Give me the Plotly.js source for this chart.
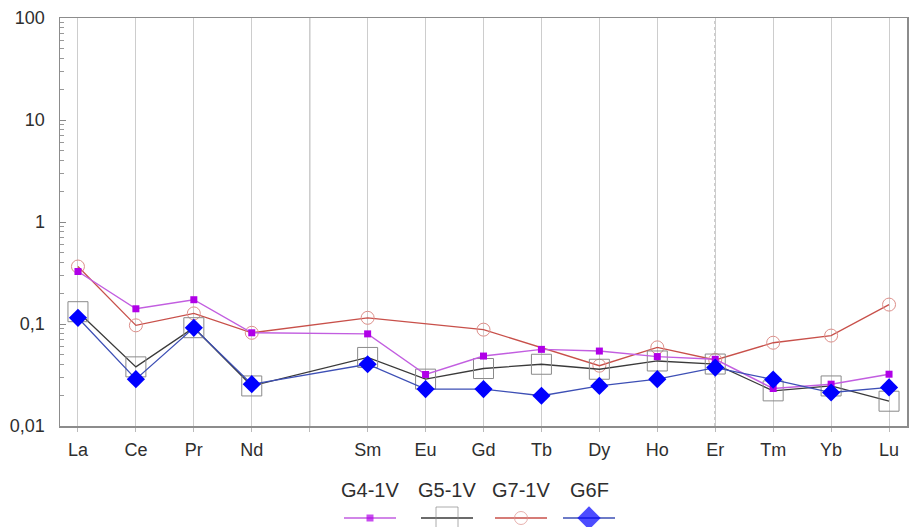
<!DOCTYPE html>
<html>
<head>
<meta charset="utf-8">
<script src="https://cdn.plot.ly/plotly-3.0.1.min.js"></script>
<style>html,body{margin:0;padding:0;background:#fff;}#chart{width:909px;height:527px;}</style>
</head>
<body>
<div id="chart"></div>
<script>
// Elements (Pm position kept empty, as in the reference)
const elements = ['La','Ce','Pr','Nd','Pm','Sm','Eu','Gd','Tb','Dy','Ho','Er','Tm','Yb','Lu'];
const elementLabels = ['La','Ce','Pr','Nd','','Sm','Eu','Gd','Tb','Dy','Ho','Er','Tm','Yb','Lu'];

// Series values (sample / chondrite)
const g4_1V = [0.327,0.141,0.173,0.082,null,0.080,0.032,0.0485,0.0564,0.0543,0.0479,0.0451,0.0233,0.0257,0.0322];
const g5_1V = [0.132,0.038,0.092,0.0247,null,0.047,0.0288,0.0366,0.0403,0.036,0.0434,0.0405,0.0221,0.0247,0.0175];
const g7_1V = [0.366,0.097,0.127,0.082,null,0.115,null,0.088,null,0.039,0.059,0.0444,0.0655,0.077,0.155];
const g6F   = [0.115,0.0288,0.0918,0.0257,null,0.0403,0.023,0.023,0.0198,0.0247,0.0288,0.0374,0.0285,0.0213,0.0239];

const seriesNames = ['G4-1V','G5-1V','G7-1V','G6F'];

const yTickVals = [0.01,0.1,1,10,100];
const yTickText = ['0,01','0,1','1','10','100'];

const W = 909, H = 527;
const plotL = 60, plotR = 907, plotT = 18, plotB = 426;

const styles = {
  'G4-1V': {line:{color:'#c25ee0',width:1.4}, marker:{symbol:'square',size:7,color:'#b000e8',line:{width:0}}},
  'G5-1V': {line:{color:'#3a3a3a',width:1.3}, marker:{symbol:'square-open',size:20,color:'#8a8a8a',line:{width:1}}},
  'G7-1V': {line:{color:'#c8504a',width:1.3}, marker:{symbol:'circle-open',size:13,color:'#dd8f8a',line:{width:1}}},
  'G6F':   {line:{color:'#3d4fb5',width:1.3}, marker:{symbol:'diamond',size:14,color:'#0000ff',line:{width:0}}}
};

const dataMap = {'G4-1V':g4_1V,'G5-1V':g5_1V,'G7-1V':g7_1V,'G6F':g6F};
const drawOrder = ['G7-1V','G5-1V','G4-1V','G6F'];

const traces = drawOrder.map(n => ({
  type:'scatter', mode:'lines+markers', name:n,
  x: elements, y: dataMap[n], connectgaps:true,
  line: styles[n].line, marker: styles[n].marker,
  xaxis:'x', yaxis:'y', showlegend:false, cliponaxis:false
}));

// Custom legend (name above symbol), drawn on a pixel-coordinate overlay axis
const legendX = [370, 447, 521, 589];
const legendSymY = 518, legendTextY = 490, halfLen = 26;
const legendSizes = {'G4-1V':7,'G5-1V':22,'G7-1V':13,'G6F':18};
seriesNames.forEach((n,i) => {
  traces.push({
    type:'scatter', mode:'lines+markers', xaxis:'x2', yaxis:'y2', showlegend:false, hoverinfo:'skip',
    x:[legendX[i]-halfLen, legendX[i], legendX[i]+halfLen], y:[legendSymY,legendSymY,legendSymY],
    line: styles[n].line,
    marker: Object.assign({}, styles[n].marker, {size:[0, legendSizes[n], 0]}),
    cliponaxis:false
  });
});

// minor log ticks
const minorVals = [];
for (let d = -2; d < 2; d++) for (let k = 2; k <= 9; k++) minorVals.push(k*Math.pow(10,d));

const darkLines = [{el:'Pm',dash:'solid',color:'#666'},{el:'Gd',dash:'solid',color:'#888'},{el:'Er',dash:'dot',color:'#444'}];
const shapes = darkLines.map(d => ({
  type:'line', xref:'x', yref:'y domain', x0:elements.indexOf(d.el), x1:elements.indexOf(d.el), y0:0, y1:1,
  line:{color:d.color,width:1,dash:d.dash}, layer:'below'
}));

const font = {family:'Liberation Sans, Arial, sans-serif', size:18, color:'#2e2e2e'};

const layout = {
  width:W, height:H,
  margin:{l:0,r:0,t:0,b:0},
  paper_bgcolor:'#fff', plot_bgcolor:'rgba(0,0,0,0)',
  font: font,
  showlegend:false,
  xaxis:{
    type:'category', categoryorder:'array', categoryarray:elements,
    domain:[plotL/W, plotR/W], range:[-0.31,14.31],
    tickmode:'array', tickvals:elements, ticktext:elementLabels,
    showgrid:true, gridcolor:'#cdcdcd', gridwidth:1,
    ticks:'outside', ticklen:4, tickcolor:'#bbb',
    showline:true, mirror:true, linecolor:'#8c8c8c', linewidth:1.5,
    zeroline:false, tickfont:font, ticklabelstandoff:3, anchor:'y'
  },
  yaxis:{
    type:'log', domain:[(H-plotB)/H, (H-plotT)/H], range:[-2,2],
    tickmode:'array', tickvals:yTickVals, ticktext:yTickText,
    ticks:'inside', ticklen:6, tickcolor:'#888',
    minor:{tickmode:'array', tickvals:minorVals, ticks:'inside', ticklen:4, tickcolor:'#999', showgrid:false},
    showgrid:false, showline:true, mirror:true, linecolor:'#8c8c8c', linewidth:1.5,
    zeroline:false, tickfont:font, ticklabelstandoff:10, anchor:'x'
  },
  xaxis2:{domain:[0,1], range:[0,W], visible:false, anchor:'y2', fixedrange:true},
  yaxis2:{domain:[0,1], range:[H,0], visible:false, anchor:'x2', fixedrange:true},
  shapes: shapes,
  annotations: seriesNames.map((n,i) => ({
    xref:'x2', yref:'y2', x:legendX[i], y:legendTextY, text:n, showarrow:false,
    font:{family:font.family, size:20, color:'#2e2e2e'}, xanchor:'center', yanchor:'middle'
  }))
};

Plotly.newPlot('chart', traces, layout, {displayModeBar:false, staticPlot:true});
</script>
</body>
</html>
